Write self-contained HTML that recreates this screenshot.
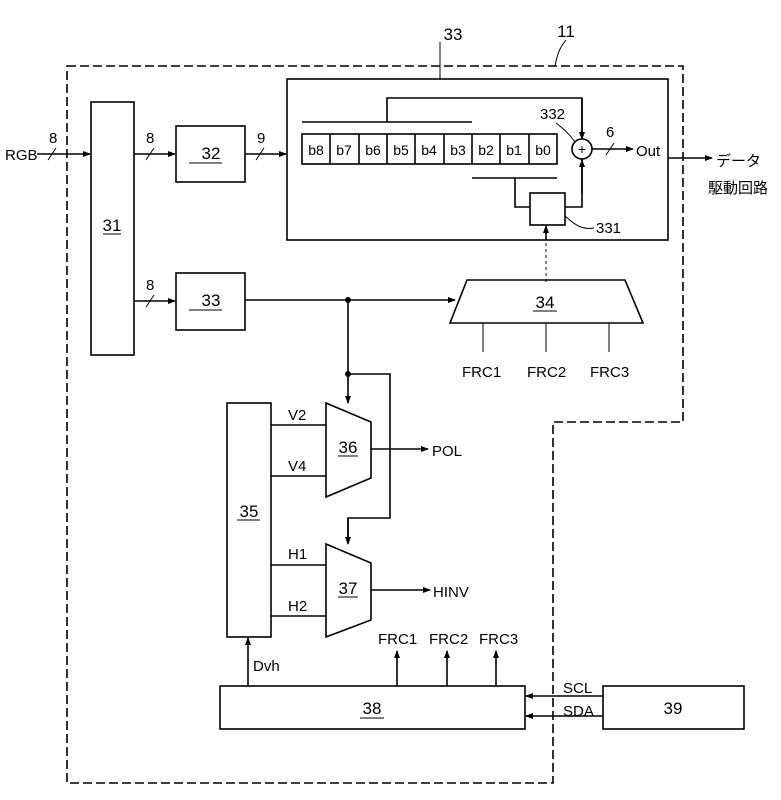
<!DOCTYPE html>
<html><head><meta charset="utf-8"><style>
html,body{margin:0;padding:0;background:#fff;}
svg{display:block;}
text{font-family:"Liberation Sans","Noto Sans CJK JP",sans-serif;fill:#000;}
</style></head><body>
<svg width="781" height="800" viewBox="0 0 781 800" xmlns="http://www.w3.org/2000/svg">
<defs>
<marker id="a" markerWidth="8" markerHeight="6" refX="7" refY="3" orient="auto" markerUnits="userSpaceOnUse"><path d="M0,0 L8,3 L0,6 z" fill="#000"/></marker>
</defs>
<g fill="none" stroke="#000" stroke-width="1.6">
<path d="M67,66 H683 V422 H553 V783 H67 Z" stroke-dasharray="9,4"/>
<path d="M555,66 C558,50 562,45 566,40" stroke-width="1"/>
<path d="M440,79 V42" stroke-width="1"/>
<rect x="91" y="102" width="43" height="253"/>
<rect x="176" y="126" width="69" height="56"/>
<rect x="176" y="273" width="69" height="57"/>
<rect x="287" y="79" width="381" height="161"/>
<rect x="227" y="403" width="44" height="234"/>
<rect x="220" y="686" width="305" height="43"/>
<rect x="603" y="686" width="141" height="43"/>
<rect x="530" y="193" width="35" height="32"/>
<rect x="302" y="134" width="255" height="30"/>
<path d="M330,134V164 M359,134V164 M387,134V164 M415,134V164 M444,134V164 M472,134V164 M500,134V164 M529,134V164"/>
<path d="M302,122 H472 M387,122 V98 H582 V139" />
<path d="M472,178 H557 M515,178 V207 H530 M565,207 H582 V159"/>
<circle cx="582" cy="149" r="10"/>
<path d="M546,282 V226" stroke-dasharray="3,3" stroke-width="1"/>
<path d="M37,154 H90" marker-end="url(#a)"/>
<path d="M134,154 H175" marker-end="url(#a)"/>
<path d="M245,154 H286" marker-end="url(#a)"/>
<path d="M134,301 H175" marker-end="url(#a)"/>
<path d="M245,300 H455" marker-end="url(#a)"/>
<path d="M592,149 H633" marker-end="url(#a)"/>
<path d="M668,158 H712" marker-end="url(#a)"/>
<path d="M582,98 V139" marker-end="url(#a)"/>
<path d="M582,193 V160" marker-end="url(#a)"/>
<path d="M546,240 V226" marker-end="url(#a)"/>
<path d="M48,160 L56,148 M146,160 L154,148 M256,160 L264,148 M146,307 L154,295 M606,155 L614,143" stroke-width="1"/>
<path d="M467,280 H625 L643,323 H450 Z"/>
<path d="M483,323 V352 M546,323 V352 M609,323 V352" stroke-width="1"/>
<path d="M348,300 V374 H390 V518 H348 V543" />
<path d="M348,374 V403" marker-end="url(#a)"/>
<path d="M348,518 V544" marker-end="url(#a)"/>
<path d="M326,403 L371,422 V478 L326,497 Z"/>
<path d="M326,544 L371,563 V620 L326,637 Z"/>
<path d="M271,425 H326 M271,476 H326 M271,565 H326 M271,616 H326"/>
<path d="M371,449 H428" marker-end="url(#a)"/>
<path d="M371,590 H430" marker-end="url(#a)"/>
<path d="M248,686 V638" marker-end="url(#a)"/>
<path d="M397,686 V651" marker-end="url(#a)"/>
<path d="M447,686 V651" marker-end="url(#a)"/>
<path d="M496,686 V651" marker-end="url(#a)"/>
<path d="M603,696 H526" marker-end="url(#a)"/>
<path d="M603,716 H526" marker-end="url(#a)"/>
<path d="M565,216 C575,225 582,230 594,228 M556,123 C562,128 568,132 575,142" stroke-width="1"/>
</g>
<circle cx="348" cy="300" r="3"/><circle cx="348" cy="374" r="3"/>
<g fill="none" stroke="#000" stroke-width="1">
<path d="M103,234H121 M189,163H222 M189,310H222 M237,520H260 M338,456H358 M338,597H358 M533,311H557 M360,718H384"/>
</g>
<g font-size="17" text-anchor="middle">
<text x="112" y="231">31</text>
<text x="211" y="159">32</text>
<text x="211" y="306">33</text>
<text x="545" y="308">34</text>
<text x="249" y="517">35</text>
<text x="348" y="453">36</text>
<text x="348" y="594">37</text>
<text x="372" y="714">38</text>
<text x="673" y="714">39</text>
<text x="453" y="40">33</text>
<text x="566" y="37">11</text>
</g>
<g font-size="15">
<text x="5" y="160">RGB</text>
<text x="49" y="143">8</text>
<text x="146" y="143">8</text>
<text x="257" y="143">9</text>
<text x="146" y="290">8</text>
<text x="606" y="137">6</text>
<text x="636" y="156">Out</text>
<text x="540" y="119">332</text>
<text x="596" y="233">331</text>
<text x="716" y="166">データ</text>
<text x="708" y="193">駆動回路</text>
<text x="462" y="377">FRC1</text>
<text x="527" y="377">FRC2</text>
<text x="590" y="377">FRC3</text>
<text x="288" y="420">V2</text>
<text x="288" y="471">V4</text>
<text x="288" y="559">H1</text>
<text x="288" y="611">H2</text>
<text x="432" y="456">POL</text>
<text x="433" y="597">HINV</text>
<text x="253" y="671">Dvh</text>
<text x="378" y="644">FRC1</text>
<text x="429" y="644">FRC2</text>
<text x="479" y="644">FRC3</text>
<text x="563" y="693">SCL</text>
<text x="563" y="716">SDA</text>
</g>
<g font-size="14" text-anchor="middle">
<text x="316" y="155">b8</text><text x="344" y="155">b7</text><text x="373" y="155">b6</text>
<text x="401" y="155">b5</text><text x="429" y="155">b4</text><text x="458" y="155">b3</text>
<text x="486" y="155">b2</text><text x="514" y="155">b1</text><text x="543" y="155">b0</text>
</g>
<text x="582" y="154" font-size="14" text-anchor="middle">+</text>
</svg>
</body></html>
